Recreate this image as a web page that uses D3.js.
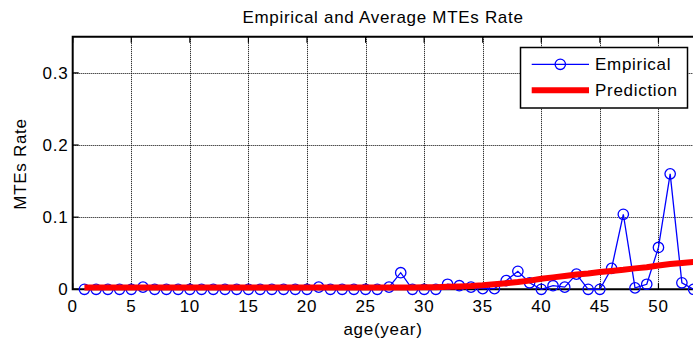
<!DOCTYPE html>
<html>
<head>
<meta charset="utf-8">
<script src="https://cdn.jsdelivr.net/npm/d3@7"></script>
<style>
  html, body { margin:0; padding:0; background:#fff; }
  svg { display:block; }
  text { font-family: "Liberation Sans", Arial, sans-serif; fill:#000; }
</style>
</head>
<body>
<svg id="chart" width="693" height="347"></svg>
<script>
// data
const ages = d3.range(1, 54); // 1..53
const empirical = [
  0, 0, 0, 0, 0, 0.003, 0, 0, 0, 0,          // 1-10
  0, 0, 0, 0, 0, 0, 0, 0, 0, 0,              // 11-20
  0.003, 0, 0, 0, 0, 0, 0.003, 0.023, 0, 0,  // 21-30
  0, 0.007, 0.005, 0.003, 0.001, 0.001, 0.012, 0.025, 0.009, 0, // 31-40
  0.005, 0.003, 0.021, 0, 0, 0.029, 0.104, 0.002, 0.007, 0.058, // 41-50
  0.160, 0.009, 0                             // 51-53
];
const prediction = [
  0.0025, 0.0025, 0.0025, 0.0025, 0.0025, 0.0025, 0.0025, 0.0025, 0.0025, 0.0025,
  0.0025, 0.0025, 0.0025, 0.0025, 0.0025, 0.0025, 0.0025, 0.0025, 0.0025, 0.0025,
  0.0025, 0.0025, 0.0025, 0.0025, 0.0025, 0.0025, 0.0025, 0.0025, 0.0025, 0.0027,
  0.003, 0.0035, 0.004, 0.0045, 0.0055, 0.007, 0.0085, 0.010, 0.012, 0.0145,
  0.0165, 0.0185, 0.0205, 0.022, 0.024, 0.0255, 0.027, 0.029, 0.0305, 0.033,
  0.035, 0.0365, 0.038
];
const xTicks = d3.range(0, 55, 5);
const yTicks = [0, 0.1, 0.2, 0.3];
const seriesNames = ['Empirical', 'Prediction'];

const svg = d3.select('#chart');
const L = 72.7, R = 693.6, T = 36.8, B = 289.3;
const boxR = 696; // right border falls just past the cropped edge
const x = d3.scaleLinear().domain([0, 53]).range([L, R]);
const y = d3.scaleLinear().domain([0, 0.35]).range([B, T]);
const FS = 17, LS = 0.7;

svg.append('rect').attr('width', 693).attr('height', 347).attr('fill', '#fff');

// grid
const grid = svg.append('g').attr('stroke', '#000').attr('stroke-width', 1).attr('stroke-dasharray', '1,1');
xTicks.filter(d => d > 0).forEach(d => {
  grid.append('line').attr('x1', Math.round(x(d)) + 0.5).attr('x2', Math.round(x(d)) + 0.5).attr('y1', T).attr('y2', B);
});
yTicks.filter(d => d > 0).forEach(d => {
  grid.append('line').attr('y1', Math.round(y(d)) + 0.5).attr('y2', Math.round(y(d)) + 0.5).attr('x1', L).attr('x2', boxR);
});

// axes box + inner ticks
const ax = svg.append('g').attr('stroke', '#000').attr('stroke-width', 2).attr('fill', 'none');
ax.append('path').attr('d', `M${L},${B}L${L},${T}L${boxR},${T}L${boxR},${B}Z`);
xTicks.forEach(d => {
  ax.append('line').attr('x1', x(d)).attr('x2', x(d)).attr('y1', B).attr('y2', B - 6).attr('stroke-width', 1.2);
  ax.append('line').attr('x1', x(d)).attr('x2', x(d)).attr('y1', T).attr('y2', T + 6).attr('stroke-width', 1.2);
});
yTicks.forEach(d => {
  ax.append('line').attr('x1', L).attr('x2', L + 6).attr('y1', y(d)).attr('y2', y(d)).attr('stroke-width', 1.2);
});

// tick labels
svg.append('g').selectAll('text').data(xTicks).join('text')
  .attr('x', d => x(d)).attr('y', 311.5).attr('text-anchor', 'middle')
  .attr('font-size', FS).attr('letter-spacing', LS).text(d => d);
svg.append('g').selectAll('text').data(yTicks).join('text')
  .attr('x', 68.3).attr('y', d => y(d) + 6).attr('text-anchor', 'end')
  .attr('font-size', FS).attr('letter-spacing', LS).text(d => d);

// titles
svg.append('text').attr('x', 383).attr('y', 22.7).attr('text-anchor', 'middle')
  .attr('font-size', FS).attr('letter-spacing', LS).text('Empirical and Average MTEs Rate');
svg.append('text').attr('x', 383).attr('y', 335).attr('text-anchor', 'middle')
  .attr('font-size', FS).attr('letter-spacing', LS).text('age(year)');
svg.append('text').attr('transform', 'translate(26,164) rotate(-90)').attr('text-anchor', 'middle')
  .attr('font-size', FS).attr('letter-spacing', LS).text('MTEs Rate');

// series
const line = d3.line().x(d => x(d[0])).y(d => y(d[1]));
const empPts = ages.map((a, i) => [a, empirical[i]]);
const predPts = ages.map((a, i) => [a, prediction[i]]);

svg.append('path').attr('d', line(empPts)).attr('fill', 'none').attr('stroke', '#0000ff').attr('stroke-width', 1.3);
svg.append('g').selectAll('circle').data(empPts).join('circle')
  .attr('cx', d => x(d[0])).attr('cy', d => y(d[1])).attr('r', 5.2)
  .attr('fill', 'none').attr('stroke', '#0000ff').attr('stroke-width', 1.3);

svg.append('path').attr('d', line(predPts)).attr('fill', 'none').attr('stroke', '#ff0000').attr('stroke-width', 6);

// legend
const lg = svg.append('g');
lg.append('rect').attr('x', 520.5).attr('y', 47.5).attr('width', 167).attr('height', 60.5)
  .attr('fill', '#fff').attr('stroke', '#000').attr('stroke-width', 1.5);
const rows = [64.3, 90.3];
lg.append('line').attr('x1', 531.7).attr('x2', 589).attr('y1', rows[0]).attr('y2', rows[0]).attr('stroke', '#0000ff').attr('stroke-width', 1.3);
lg.append('circle').attr('cx', 560.3).attr('cy', rows[0]).attr('r', 5.2).attr('fill', 'none').attr('stroke', '#0000ff').attr('stroke-width', 1.3);
lg.append('line').attr('x1', 531.7).attr('x2', 589).attr('y1', rows[1]).attr('y2', rows[1]).attr('stroke', '#ff0000').attr('stroke-width', 6);
seriesNames.forEach((n, i) => {
  lg.append('text').attr('x', 595).attr('y', rows[i] + 6).attr('font-size', FS).attr('letter-spacing', LS).text(n);
});
</script>
</body>
</html>
